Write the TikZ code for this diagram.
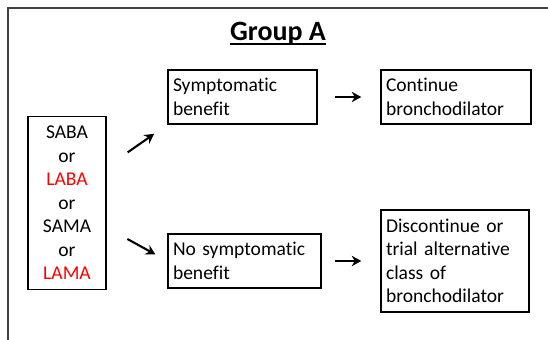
\documentclass[tikz,border=0pt]{standalone}
\usepackage{fontspec}
\setmainfont{Carlito}[Ligatures=NoCommon]
\usepackage{xcolor}
\usepackage{tikz}
\usetikzlibrary{arrows.meta,calc}

\definecolor{drugred}{RGB}{255,0,0}

\begin{document}
\begin{tikzpicture}[
    medbox/.style={rectangle, draw=black, line width=1pt, fill=white, inner xsep=0.125cm, inner ysep=0pt, align=left, font=\fontsize{13.9pt}{16.7pt}\selectfont},
    marrow/.style={-{Stealth[length=2.4mm, width=2.6mm]}, line width=1.5pt, black}
  ]
    \useasboundingbox (0,0) rectangle (13.7,8.475);
    \draw[black!75, line width=0.8pt] (0.2,-0.5) -- (0.2,8.275) -- (14.2,8.275);

    \node[anchor=base, font=\fontsize{19.9pt}{24pt}\selectfont\bfseries, inner sep=0pt] (title) at (6.95, 7.475) {Group A};
    \draw[line width=1.3pt] ($(title.base west)+(0,-0.09)$) -- ($(title.base east)+(0,-0.09)$);

    \node[medbox, align=center, text width=1.7cm, minimum height=4.325cm] (drug) at (1.675, 3.406) {
      SABA\\
      or\\
      \textcolor{drugred}{LABA}\\
      or\\
      SAMA\\
      or\\
      \textcolor{drugred}{LAMA}
    };

    \node[medbox, text width=3.475cm, minimum height=1.35cm] (symp) at (6.0625, 6.05) {
      Symptomatic\\
      benefit
    };

    \node[medbox, text width=3.5cm, minimum height=1.35cm] (cont) at (11.4, 6.05) {
      Continue\\
      bronchodilator
    };

    \node[medbox, text width=3.575cm, minimum height=1.35cm] (nosym) at (6.1125, 1.95) {
      No symptomatic\\
      benefit
    };

    \node[medbox, text width=3.45cm, minimum height=2.55cm] (disc) at (11.375, 1.95) {
      Discontinue or\\
      trial alternative\\
      class of\\
      bronchodilator
    };

    \draw[marrow, shorten <=0.64cm, shorten >=0.4cm] (drug.42) -- (symp.south west);
    \draw[marrow, shorten <=0.59cm, shorten >=0.34cm] (drug.-32) -- (nosym.west);
    \draw[marrow, shorten <=0.425cm, shorten >=0.475cm] (symp.east) -- (cont.west);
    \draw[marrow, shorten <=0.325cm, shorten >=0.475cm] (nosym.east) -- (disc.west);
  \end{tikzpicture}
\end{document}
